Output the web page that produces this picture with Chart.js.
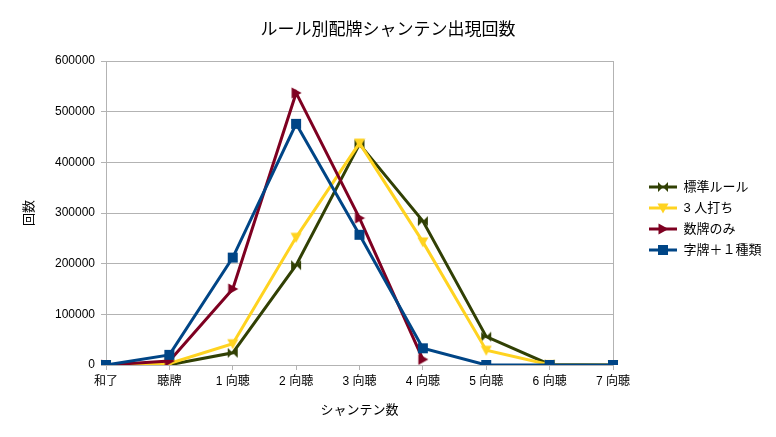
<!DOCTYPE html>
<html>
<head>
<meta charset="utf-8">
<script src="https://cdn.jsdelivr.net/npm/chart.js@4"></script>
<style>
html,body{margin:0;padding:0;background:#fff;}
#wrap{width:776px;height:437px;}
</style>
</head>
<body>
<div id="wrap"><canvas id="c" width="776" height="437"></canvas></div>
<script>
const categories = ['和了', '聴牌', '1 向聴', '2 向聴', '3 向聴', '4 向聴', '5 向聴', '6 向聴', '7 向聴'];
const seriesNames = ['標準ルール', '3 人打ち', '数牌のみ', '字牌＋１種類'];
const standardRule = [0, 500, 24000, 197000, 436000, 284000, 56000, 1000, 0];
const threePlayer = [0, 3000, 42000, 252000, 438000, 243000, 29000, 500, 0];
const suitsOnly = [0, 8000, 150000, 537000, 290000, 11000, null, null, null];
const honorsPlusOne = [0, 20000, 212000, 476000, 257000, 33000, 0, 0, 0];
const yTicks = [0, 100000, 200000, 300000, 400000, 500000, 600000];

const colors = ['#314004', '#ffd320', '#7e0021', '#004586'];
const FONT = "'Liberation Sans', 'Noto Sans CJK JP', sans-serif";

function drawMarker(ctx, kind, cx, cy, color) {
  ctx.fillStyle = color;
  ctx.beginPath();
  if (kind === 'bowtie') {
    ctx.moveTo(cx - 5, cy - 5); ctx.lineTo(cx - 5, cy + 5); ctx.lineTo(cx, cy); ctx.closePath();
    ctx.moveTo(cx + 5, cy - 5); ctx.lineTo(cx + 5, cy + 5); ctx.lineTo(cx, cy); ctx.closePath();
  } else if (kind === 'down') {
    ctx.moveTo(cx - 5.5, cy - 4.5); ctx.lineTo(cx + 5.5, cy - 4.5); ctx.lineTo(cx, cy + 5.5); ctx.closePath();
  } else if (kind === 'right') {
    ctx.moveTo(cx - 4.5, cy - 5.5); ctx.lineTo(cx - 4.5, cy + 5.5); ctx.lineTo(cx + 5.5, cy); ctx.closePath();
  } else {
    ctx.rect(cx - 5, cy - 5, 10, 10);
  }
  ctx.fill();
}
const kinds = ['bowtie', 'down', 'right', 'square'];
function pointImg(i) {
  const c = document.createElement('canvas');
  c.width = 12; c.height = 12;
  drawMarker(c.getContext('2d'), kinds[i], 6, 6, colors[i]);
  return c;
}
function legendImg(i) {
  const c = document.createElement('canvas');
  c.width = 56; c.height = 14;
  const g = c.getContext('2d');
  g.strokeStyle = colors[i]; g.lineWidth = 3;
  g.beginPath(); g.moveTo(28, 7); g.lineTo(56, 7); g.stroke();
  drawMarker(g, kinds[i], 42, 7, colors[i]);
  return c;
}
const pImgs = [0,1,2,3].map(pointImg);
const lImgs = [0,1,2,3].map(legendImg);
const allData = [standardRule, threePlayer, suitsOnly, honorsPlusOne];

const datasets = allData.map((d, i) => ({
  label: seriesNames[i],
  data: d,
  borderColor: colors[i],
  backgroundColor: colors[i],
  borderWidth: 3,
  pointStyle: pImgs[i],
  pointRadius: 6,
  tension: 0,
  spanGaps: false,
  order: 4 - i
}));

const boxPlugin = {
  id: 'boxPlugin',
  beforeLayout(chart) {
    const lg = chart.legend;
    if (lg && !lg._patched) {
      const f = lg.fit.bind(lg);
      lg.fit = function () { f(); this.width = 163; };
      lg._patched = true;
    }
  },
  beforeDatasetsDraw(chart) {
    const a = chart.chartArea, ctx = chart.ctx;
    ctx.save();
    ctx.strokeStyle = '#b3b3b3';
    ctx.lineWidth = 1;
    ctx.strokeRect(Math.round(a.left) + 0.5, Math.round(a.top) + 0.5, Math.round(a.right - a.left), Math.round(a.bottom - a.top));
    ctx.restore();
  }
};

new Chart(document.getElementById('c'), {
  type: 'line',
  data: { labels: categories, datasets },
  plugins: [boxPlugin],
  options: {
    responsive: false,
    animation: false,
    layout: { padding: 0 },
    plugins: {
      title: {
        display: true,
        text: 'ルール別配牌シャンテン出現回数',
        color: '#000',
        font: { family: FONT, size: 17, weight: 'normal', lineHeight: 1.2 },
        padding: { top: 20, bottom: 20.6 }
      },
      legend: {
        position: 'right',
        labels: {
          usePointStyle: true,
          pointStyleWidth: 56,
          padding: 8,
          color: '#000',
          font: { family: FONT, size: 13 },
          generateLabels: (chart) => seriesNames.map((n, i) => ({
            text: n, pointStyle: lImgs[i], fillStyle: colors[i], strokeStyle: colors[i],
            lineWidth: 0, hidden: false, datasetIndex: i, fontColor: '#000'
          }))
        }
      },
      tooltip: { enabled: false }
    },
    scales: {
      x: {
        offset: false,
        afterFit: (s) => { s.height = 72; },
        grid: { display: true, drawOnChartArea: false, drawTicks: true, tickLength: 5, color: '#b3b3b3' },
        border: { display: true, color: '#b3b3b3' },
        ticks: { color: '#000', font: { family: FONT, size: 12 }, padding: 4, maxRotation: 0, autoSkip: false },
        title: { display: true, text: 'シャンテン数', color: '#000', font: { family: FONT, size: 13 }, padding: { top: 0, bottom: 19 } }
      },
      y: {
        min: 0, max: 600000,
        afterFit: (s) => { s.width = 106; },
        afterBuildTicks: (s) => { s.ticks = yTicks.map(v => ({ value: v })); },
        grid: { color: '#b3b3b3', tickLength: 5, drawTicks: true },
        border: { display: true, color: '#b3b3b3' },
        ticks: { color: '#000', font: { family: FONT, size: 12 }, padding: 6, callback: (v) => String(v) },
        title: { display: true, text: '回数', color: '#000', font: { family: FONT, size: 13 }, padding: { top: 22, bottom: 0 } }
      }
    }
  }
});
</script>
</body>
</html>
